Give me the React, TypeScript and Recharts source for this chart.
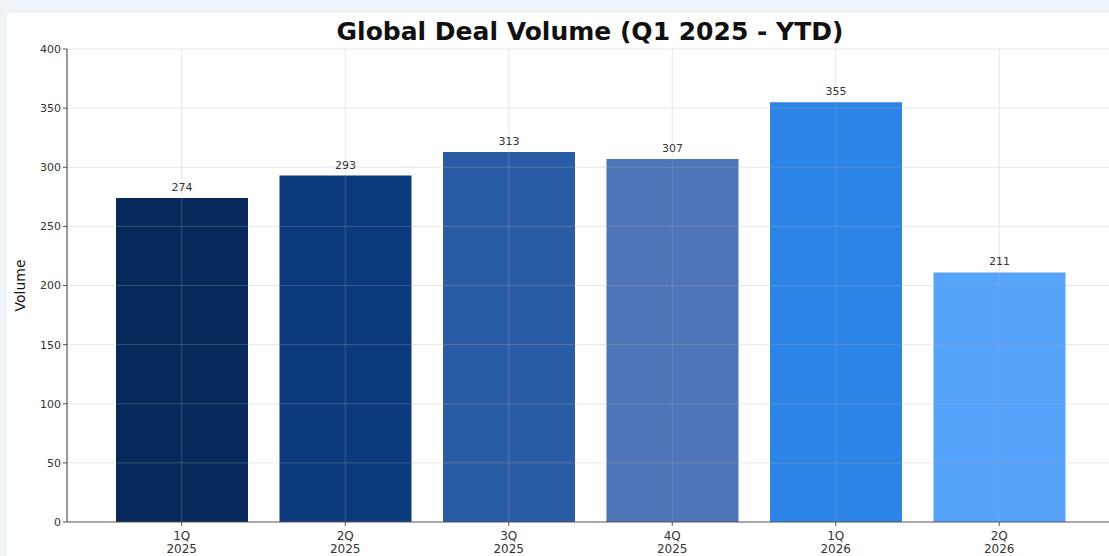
import { BarChart, Bar, XAxis, YAxis, Cell, LabelList, ReferenceLine } from 'recharts';

const quarters = ['1Q\n2025', '2Q\n2025', '3Q\n2025', '4Q\n2025', '1Q\n2026', '2Q\n2026'];
const volumes = [274, 293, 313, 307, 355, 211];
const barColors = ['#06285a', '#0b3a7d', '#2a5ca6', '#4e75b7', '#2b84e6', '#56a3fb'];
const yTicks = [0, 50, 100, 150, 200, 250, 300, 350, 400];

const data = quarters.map((q, i) => ({ quarter: q, volume: volumes[i], color: barColors[i] }));

const FONT = '"DejaVu Sans", sans-serif';
const GRID = { stroke: '#b0b0b0', strokeOpacity: 0.3, strokeWidth: 1 };

const QuarterTick = ({ x, y, payload }: any) => {
  const lines = String(payload.value).split('\n');
  return (
    <text x={x} y={y + 2} textAnchor="middle" fill="#333" fontSize={12} fontFamily={FONT}>
      {lines.map((l, i) => (
        <tspan key={i} x={x} dy={i === 0 ? 10 : 13}>
          {l}
        </tspan>
      ))}
    </text>
  );
};

const App = () => {
  return (
    <div style={{ position: 'fixed', left: 0, top: 0, width: 1109, height: 556, background: '#eef3f8', overflow: 'hidden' }}>
      <div style={{ position: 'absolute', left: 7, top: 13, width: 1102, height: 543, background: '#ffffff' }} />
      <div
        style={{
          position: 'absolute',
          left: 0,
          top: 16,
          width: 1180,
          textAlign: 'center',
          fontFamily: FONT,
          fontWeight: 'bold',
          fontSize: 25,
          lineHeight: '32px',
          color: '#111',
        }}
      >
        Global Deal Volume (Q1 2025 - YTD)
      </div>
      <div style={{ position: 'absolute', left: 0, top: 0 }}>
        <BarChart
          width={1109}
          height={556}
          data={data}
          margin={{ top: 49, right: -5, bottom: 0, left: 0 }}
          barSize={132}
        >
          <XAxis
            dataKey="quarter"
            height={34}
            padding={{ left: 33, right: 33 }}
            tick={<QuarterTick />}
            tickLine={{ stroke: '#555' }}
            tickSize={4}
            axisLine={{ stroke: '#555', strokeWidth: 1.2 }}
            interval={0}
          />
          <YAxis
            width={67}
            domain={[0, 400]}
            ticks={yTicks}
            tick={{ fill: '#333', fontSize: 11, fontFamily: FONT }}
            tickLine={{ stroke: '#555' }}
            tickSize={4}
            axisLine={{ stroke: '#555', strokeWidth: 1.2 }}
            label={{
              value: 'Volume',
              angle: -90,
              position: 'insideLeft',
              offset: 20,
              style: { textAnchor: 'middle', fill: '#111', fontSize: 14, fontFamily: FONT },
            }}
          />
          <Bar dataKey="volume" isAnimationActive={false}>
            {data.map((d, i) => (
              <Cell key={`cell-${i}`} fill={d.color} />
            ))}
            <LabelList dataKey="volume" position="top" offset={7} fill="#333" fontSize={11} fontFamily={FONT} />
          </Bar>
          {yTicks.slice(1).map((t) => (
            <ReferenceLine key={`h-${t}`} y={t} {...GRID} />
          ))}
          {quarters.map((q) => (
            <ReferenceLine key={`v-${q}`} x={q} {...GRID} />
          ))}
        </BarChart>
      </div>
    </div>
  );
};

export default App;
